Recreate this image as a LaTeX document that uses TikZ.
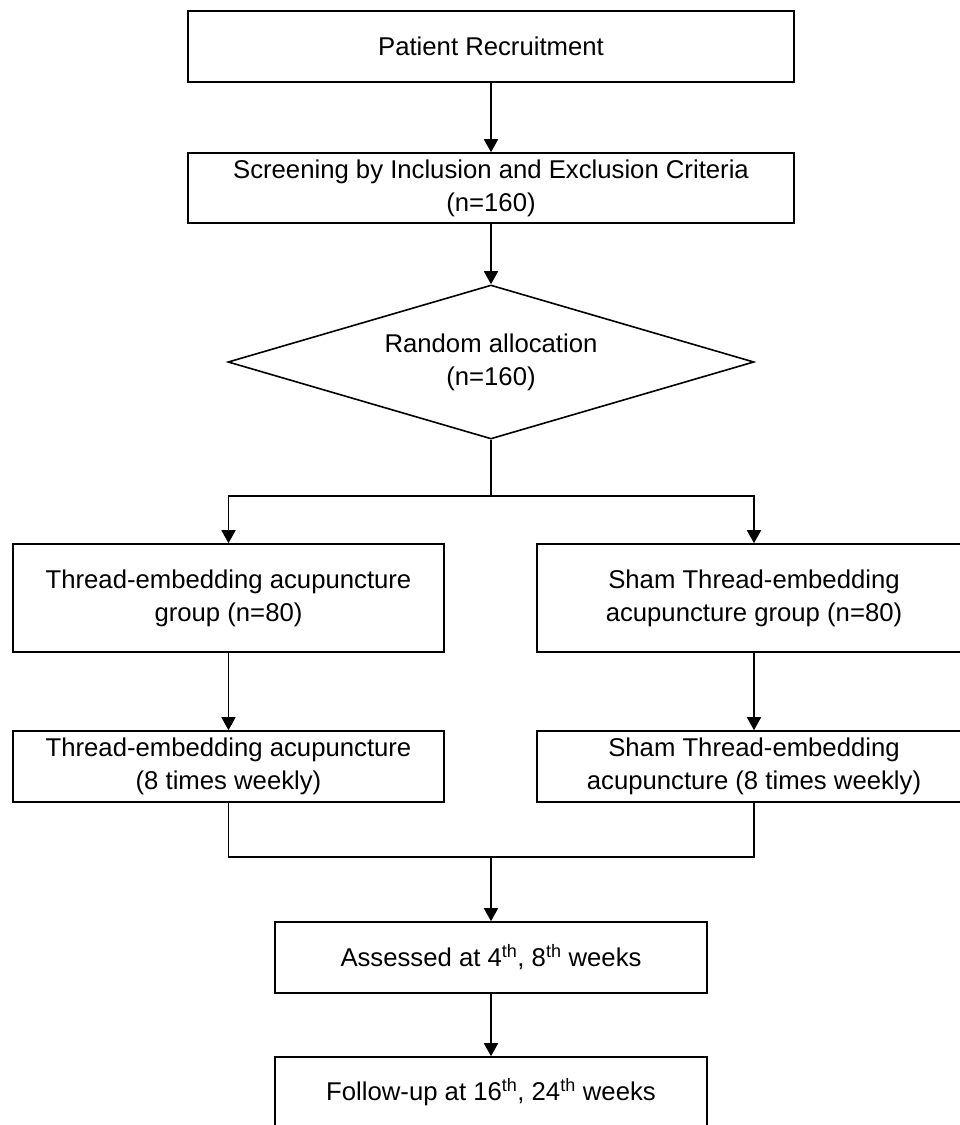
\documentclass[tikz,border=0pt]{standalone}
\usepackage{fontspec}
\setmainfont{Liberation Sans}
\usetikzlibrary{shapes.geometric,arrows.meta}

\begin{document}
\begin{tikzpicture}[x=1pt,y=-1pt]
    \tikzstyle{every node}=[font=\fontsize{25.7}{33}\selectfont]
    \tikzstyle{box}=[draw,line width=1.6pt,align=center,inner sep=0pt]
    \tikzstyle{arr}=[line width=1.6pt,-{Triangle[length=13pt,width=14pt]}]
    \useasboundingbox (0,0) rectangle (959,1125);

    \node[box,minimum width=606pt,minimum height=71pt] (recruit) at (491,46.5)
    {Patient Recruitment};
    \node[box,minimum width=606pt,minimum height=70pt] (screen) at (491,188)
    {Screening by Inclusion and Exclusion Criteria\\(n=160)};
    \node[box,diamond,aspect=3.4,minimum width=526pt,minimum height=154pt]
    (alloc) at (491,362) {Random allocation\\(n=160)};

    \node[box,minimum width=431pt,minimum height=108pt] (teagroup) at (228.5,598)
    {Thread-embedding acupuncture\\group (n=80)};
    \node[box,minimum width=434pt,minimum height=108pt] (shamgroup) at (754,598)
    {Sham Thread-embedding\\acupuncture group (n=80)};

    \node[box,minimum width=431pt,minimum height=71pt] (teatx) at (228.5,766.5)
    {Thread-embedding acupuncture\\(8 times weekly)};
    \node[box,minimum width=434pt,minimum height=71pt] (shamtx) at (754,766.5)
    {Sham Thread-embedding\\acupuncture (8 times weekly)};

    \node[box,minimum width=432pt,minimum height=71pt] (assess) at (491,957.5)
    {Assessed at 4\textsuperscript{th}, 8\textsuperscript{th} weeks};
    \node[box,minimum width=432pt,minimum height=71pt] (follow) at (491,1092.5)
    {Follow-up at 16\textsuperscript{th}, 24\textsuperscript{th} weeks};

    \coordinate (split) at (491,496);
    \coordinate (merge) at (491,857);

    \draw[arr] (recruit) -- (screen);
    \draw[arr] (screen) -- (alloc);
    \draw[line width=1.6pt] (alloc.south) -- (split);
    \draw[arr] (split) -| (teagroup.north);
    \draw[arr] (split) -| (shamgroup.north);
    \draw[arr] (teagroup) -- (teatx);
    \draw[arr] (shamgroup) -- (shamtx);
    \draw[line width=1.6pt] (teatx.south) |- (merge);
    \draw[line width=1.6pt] (shamtx.south) |- (merge);
    \draw[arr] (merge) -- (assess);
    \draw[arr] (assess) -- (follow);

\end{tikzpicture}
\end{document}
